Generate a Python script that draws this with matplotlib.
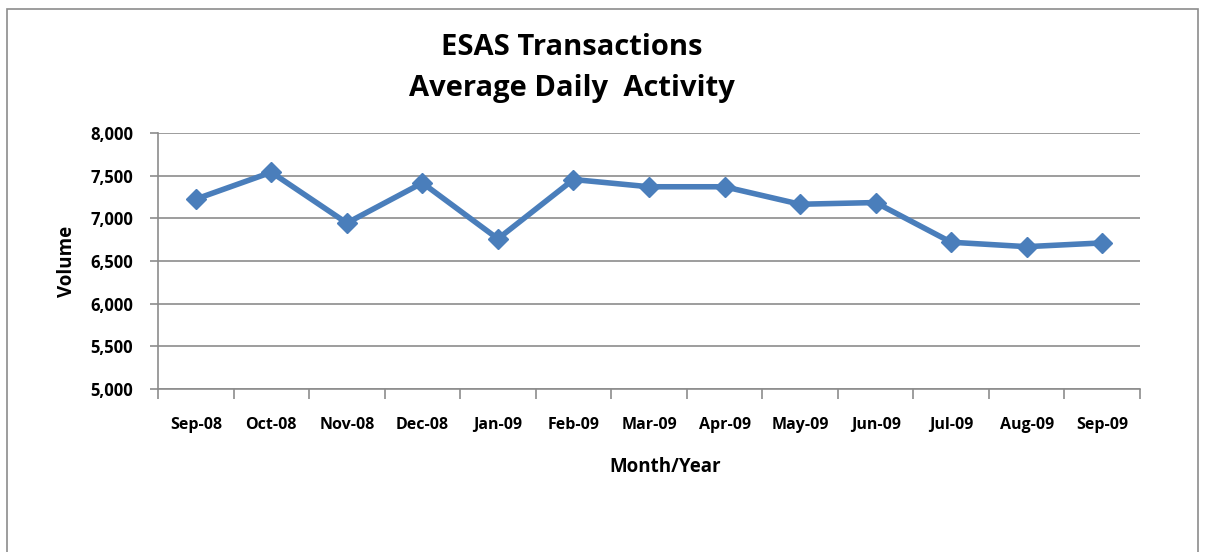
import matplotlib
matplotlib.use("Agg")
import matplotlib.pyplot as plt
from matplotlib.ticker import FuncFormatter, FixedLocator
from matplotlib.patches import Rectangle

months = ["Sep-08", "Oct-08", "Nov-08", "Dec-08", "Jan-09", "Feb-09", "Mar-09",
          "Apr-09", "May-09", "Jun-09", "Jul-09", "Aug-09", "Sep-09"]
volume = [7225, 7540, 6945, 7415, 6760, 7455, 7370, 7370, 7165, 7185, 6720, 6668, 6712]
y_ticks = [5000, 5500, 6000, 6500, 7000, 7500, 8000]

W, H = 1208, 552
fig = plt.figure(figsize=(W / 100, H / 100), dpi=100)
fig.patch.set_facecolor("white")

# outer frame
fig.add_artist(Rectangle((7 / W, -0.05), (1198 - 7) / W, 1.05 - 9 / H,
                         transform=fig.transFigure, fill=False,
                         edgecolor="#8c8c8c", linewidth=1.2))

ax = fig.add_axes([158 / W, 1 - 389 / H, (1140 - 158) / W, (389 - 133) / H])
x = list(range(len(months)))
ax.plot(x, volume, color="#4a7ebb", linewidth=4, marker="D", markersize=10,
        markeredgecolor="#4a7ebb", zorder=3, solid_joinstyle="miter")

ax.set_xlim(-0.5, len(months) - 0.5)
ax.set_ylim(5000, 8000)
ax.yaxis.set_major_locator(FixedLocator(y_ticks))
ax.yaxis.set_major_formatter(FuncFormatter(lambda v, p: f"{int(v):,}"))
ax.grid(axis="y", color="#8c8c8c", linewidth=1.2)
ax.set_axisbelow(True)

for s in ["top", "right"]:
    ax.spines[s].set_visible(False)
for s in ["left", "bottom"]:
    ax.spines[s].set_color("#8c8c8c")
    ax.spines[s].set_linewidth(1.2)

# category boundary ticks on x axis
ax.set_xticks([i - 0.5 for i in range(len(months) + 1)], minor=False)
ax.set_xticklabels([])
ax.set_xticks(x, minor=True)
ax.set_xticklabels(months, minor=True, fontsize=11.5, fontweight="bold",
                   family="Open Sans")
ax.tick_params(axis="x", which="major", length=7, color="#8c8c8c", width=1.2, direction="out")
ax.tick_params(axis="x", which="minor", length=0, pad=20)
ax.tick_params(axis="y", length=6, color="#8c8c8c", width=1.2, labelsize=12, pad=12)
for t in ax.get_yticklabels():
    t.set_fontweight("bold")
    t.set_family("Open Sans")

ax.set_ylabel("Volume", fontsize=13.5, fontweight="bold", family="Open Sans", labelpad=9)
fig.text(665 / W, 1 - 467 / H, "Month/Year", ha="center", va="center",
         fontsize=13.5, fontweight="bold", family="Open Sans")
fig.text(572 / W, 1 - 68 / H, "ESAS Transactions\nAverage Daily  Activity",
         ha="center", va="center", fontsize=21, fontweight="bold",
         family="Open Sans", linespacing=1.55)

fig.savefig("out.png", dpi=100, facecolor="white")
